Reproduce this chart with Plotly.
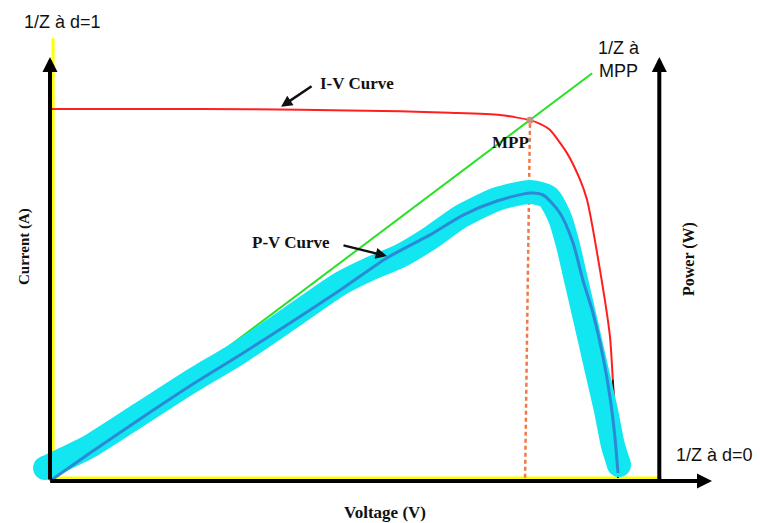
import plotly.graph_objects as go

W, H = 760, 523

# ---- data (Voltage in V, Current in A, Power in W) ----
IV_V = [0.0, 5.8, 9.7, 13.56, 15.49, 17.43, 18.59, 18.98, 19.36, 20.02, 20.53, 20.80, 21.30, 21.69, 21.80, 21.92, 22.0]
IV_I = [5.00, 5.00, 4.99, 4.97, 4.95, 4.92, 4.85, 4.80, 4.72, 4.41, 4.05, 3.78, 2.84, 1.94, 1.36, 0.69, 0.04]

PV_V = [0.0, 1.55, 3.49, 5.42, 7.36, 9.30, 11.23, 13.05, 14.72, 16.0, 17.31, 18.59, 19.09, 19.75, 20.26, 20.64, 21.03, 21.42, 21.69, 21.88, 22.0]
PV_P = [0.0, 8.75, 19.4, 29.7, 39.4, 49.4, 59.6, 69.7, 76.9, 83.1, 87.5, 90.0, 89.4, 83.75, 74.4, 62.8, 52.5, 38.75, 26.25, 13.75, 2.5]

HL_V = [-0.19, 1.55, 3.49, 5.42, 7.36, 9.30, 11.23, 12.39, 13.56, 14.72, 15.88, 17.31, 18.59, 19.29, 19.75, 20.06, 20.33, 20.60, 20.91, 21.22, 21.53, 21.80, 22.04]
HL_P = [4.06, 10.9, 20.9, 30.9, 40.3, 50.9, 61.6, 66.3, 70.3, 75.9, 82.5, 88.1, 90.3, 88.75, 82.2, 73.75, 64.4, 55.0, 44.1, 33.1, 22.2, 11.25, 5.0]

MPP_V, MPP_I = 18.59, 4.85
LOAD_V = [0.0, 21.0]          # 1/Z at MPP load line
LOAD_I = [0.0, 5.48]
D1_V = [0.12, 0.12]           # 1/Z at d=1
D1_I = [0.0, 5.95]
D0_V = [0.0, 23.7]            # 1/Z at d=0
D0_I = [0.04, 0.04]
MPP_DROP_V = [18.59, 18.40]
MPP_DROP_I = [4.80, 0.0]

AXIS_TOP_I = 5.70
AXIS_RIGHT_V = 23.6
AXIS_END_V = 25.64

X_RANGE = [-1.936, 27.50]
Y_RANGE = [-0.565, 6.465]
Y2_RANGE = [-13.125, 150.31]

fig = go.Figure()

# cyan highlight of P-V curve
fig.add_trace(go.Scatter(x=HL_V, y=HL_P, yaxis="y2", mode="lines",
                         line=dict(color="#12e6f0", width=24, shape="spline", smoothing=0.6),
                         hoverinfo="skip", showlegend=False))
fig.add_trace(go.Scatter(x=[HL_V[0], HL_V[-1]], y=[HL_P[0], HL_P[-1]], yaxis="y2", mode="markers",
                         marker=dict(color="#12e6f0", size=24, line=dict(width=0)),
                         hoverinfo="skip", showlegend=False))
# P-V curve
fig.add_trace(go.Scatter(x=PV_V, y=PV_P, yaxis="y2", mode="lines",
                         line=dict(color="#2b8ad6", width=3, shape="spline", smoothing=0.7),
                         showlegend=False))
# yellow lines
fig.add_trace(go.Scatter(x=D1_V, y=D1_I, mode="lines", line=dict(color="#ffff00", width=3), showlegend=False))
fig.add_trace(go.Scatter(x=D0_V, y=D0_I, mode="lines", line=dict(color="#ffff00", width=3), showlegend=False))
# green load line
fig.add_trace(go.Scatter(x=LOAD_V, y=LOAD_I, mode="lines", line=dict(color="#27e027", width=2), showlegend=False))
# I-V curve
fig.add_trace(go.Scatter(x=IV_V, y=IV_I, mode="lines",
                         line=dict(color="#ff1f1f", width=2, shape="spline", smoothing=0.6),
                         showlegend=False))
tail_v = [v for v, i in zip(IV_V, IV_I) if i <= 1.4]
tail_i = [i for i in IV_I if i <= 1.4]
fig.add_trace(go.Scatter(x=tail_v, y=tail_i, mode="lines",
                         line=dict(color="#111111", width=1.5), showlegend=False))
# MPP vertical dotted line
fig.add_trace(go.Scatter(x=MPP_DROP_V, y=MPP_DROP_I, mode="lines",
                         line=dict(color="#f07a45", width=2.5, dash="4px,3px"), showlegend=False))
# MPP marker
fig.add_trace(go.Scatter(x=[MPP_V], y=[MPP_I], mode="markers",
                         marker=dict(color="#c4927f", size=7), showlegend=False))

ann = []
def axis_arrow(x0, y0, x1, y1):
    ann.append(dict(x=x1, y=y1, ax=x0, ay=y0, xref="x", yref="y", axref="x", ayref="y",
                    text="", showarrow=True, arrowhead=2, arrowsize=0.75, arrowwidth=4,
                    arrowcolor="#000000"))

axis_arrow(0, 0, 0, AXIS_TOP_I)
axis_arrow(-0.05, 0, AXIS_END_V, 0)
axis_arrow(AXIS_RIGHT_V, 0, AXIS_RIGHT_V, AXIS_TOP_I)

# label arrows
ann.append(dict(x=8.95, y=5.03, ax=10.19, ay=5.32, xref="x", yref="y", axref="x", ayref="y",
                text="", showarrow=True, arrowhead=2, arrowsize=0.9, arrowwidth=2.5, arrowcolor="#111111"))
ann.append(dict(x=13.05, y=70.3, ax=11.31, ay=73.75, xref="x", yref="y2", axref="x", ayref="y2",
                text="", showarrow=True, arrowhead=2, arrowsize=0.9, arrowwidth=2.5, arrowcolor="#111111"))

serif = "Liberation Serif"
sans = "Liberation Sans"

def text(px, py, s, size, family, bold=False, xanchor="left", angle=0, yanchor="middle"):
    ann.append(dict(x=px / W, y=1 - py / H, xref="paper", yref="paper", text=s, showarrow=False,
                    xanchor=xanchor, yanchor=yanchor, textangle=angle,
                    font=dict(family=family, size=size, color="#111111",
                              weight="bold" if bold else "normal")))

text(22, 22, "1/Z à d=1", 18, sans)
text(596, 60, "1/Z à<br>MPP", 18, sans)
text(674, 455, "1/Z à d=0", 18, sans)
text(318, 83, "I-V Curve", 17, serif, bold=True)
text(250, 242, "P-V Curve", 17, serif, bold=True)
text(490, 142, "MPP", 17, serif, bold=True)
text(385, 512, "Voltage (V)", 17, serif, bold=True, xanchor="center")
text(24, 247, "Current (A)", 15, serif, bold=True, xanchor="center", angle=-90)
text(689, 259, "Power (W)", 16, serif, bold=True, xanchor="center", angle=-90)

fig.update_layout(
    width=W, height=H,
    margin=dict(l=0, r=0, t=0, b=0),
    paper_bgcolor="white", plot_bgcolor="white",
    xaxis=dict(range=X_RANGE, visible=False, fixedrange=True),
    yaxis=dict(range=Y_RANGE, visible=False, fixedrange=True),
    yaxis2=dict(range=Y2_RANGE, visible=False, overlaying="y", fixedrange=True),
    annotations=ann,
    showlegend=False,
)

fig.write_html("out.html")
